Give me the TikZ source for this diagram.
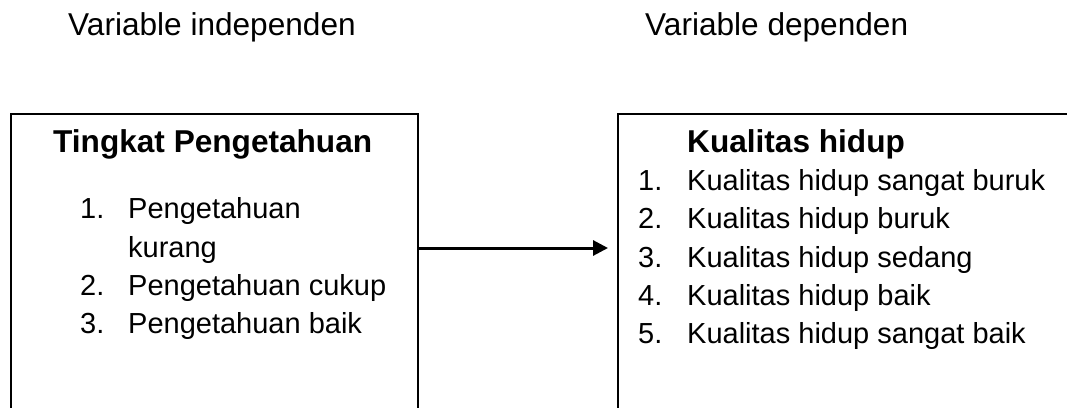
\documentclass[tikz,border=0pt]{standalone}
\usepackage{fontspec}
\setmainfont{Liberation Sans}
\usetikzlibrary{arrows.meta}
\begin{document}
\begin{tikzpicture}[x=1pt,y=-1pt,
  txt/.style={anchor=base west,inner sep=0pt,font=\fontsize{31.6}{38}\selectfont},
  item/.style={anchor=base west,inner sep=0pt,font=\fontsize{29}{38}\selectfont},
  boxframe/.style={draw=black,line width=2pt,anchor=north west,inner sep=0pt},
  link/.style={line width=3pt,-{Triangle[length=15pt,width=15pt]}}]
\useasboundingbox (0,0) rectangle (1067,407);
\clip (0,0) rectangle (1067,407);
\node[txt] (hl) at (68,35) {Variable independen};
\node[txt] (hr) at (645,35) {Variable dependen};
\node[boxframe,minimum width=407pt,minimum height=320pt] (lbox) at (10,113) {};
\node[boxframe,minimum width=480pt,minimum height=320pt] (rbox) at (617,113) {};
\node[txt,font=\fontsize{31.6}{38}\selectfont\bfseries] (lt) at (53,152) {Tingkat Pengetahuan};
\node[item] (l1n) at (80,218) {1.};
\node[item] (l1) at (128,218) {Pengetahuan};
\node[item] (l1b) at (128,257) {kurang};
\node[item] (l2n) at (80,295) {2.};
\node[item] (l2) at (128,295) {Pengetahuan cukup};
\node[item] (l3n) at (80,333) {3.};
\node[item] (l3) at (128,333) {Pengetahuan baik};
\node[txt,font=\fontsize{31.6}{38}\selectfont\bfseries] (rt) at (687,152) {Kualitas hidup};
\node[item] (r1n) at (638,190) {1.};
\node[item] (r1) at (687,190) {Kualitas hidup sangat buruk};
\node[item] (r2n) at (638,228) {2.};
\node[item] (r2) at (687,228) {Kualitas hidup buruk};
\node[item] (r3n) at (638,267) {3.};
\node[item] (r3) at (687,267) {Kualitas hidup sedang};
\node[item] (r4n) at (638,305) {4.};
\node[item] (r4) at (687,305) {Kualitas hidup baik};
\node[item] (r5n) at (638,343) {5.};
\node[item] (r5) at (687,343) {Kualitas hidup sangat baik};
\coordinate (as) at (lbox.north east |- 0,248);
\coordinate (ae) at ([xshift=-9pt]rbox.north west |- 0,248);
\draw[link] (as) -- (ae);
\end{tikzpicture}
\end{document}
